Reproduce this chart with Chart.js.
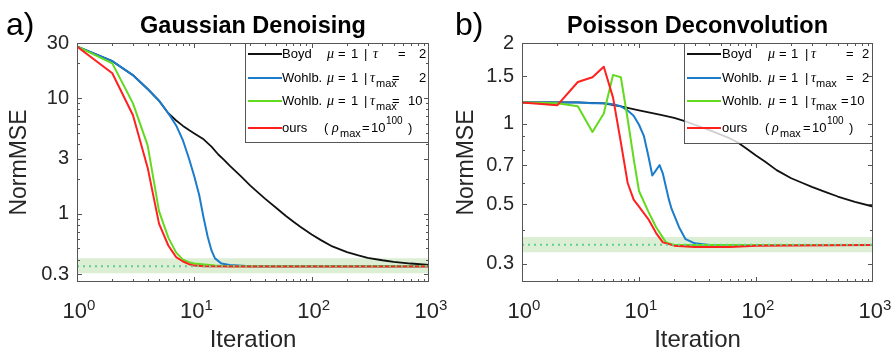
<!DOCTYPE html>
<html>
<head>
<meta charset="utf-8">
<script src="https://cdn.jsdelivr.net/npm/chart.js@4.4.0/dist/chart.umd.min.js"></script>
<style>
html,body{margin:0;padding:0;background:#fff;}
#wrap{position:relative;width:895px;height:355px;overflow:hidden;}
.panel{position:absolute;top:0;height:355px;}
</style>
</head>
<body>
<div id="wrap">
  <div class="panel" style="left:0;width:447px"><canvas id="chartA" width="447" height="355"></canvas></div>
  <div class="panel" style="left:447px;width:448px"><canvas id="chartB" width="448" height="355"></canvas></div>
</div>
<script>
// --- Fonts & colours ---
const FONT = '"Liberation Sans", Arial, Helvetica, sans-serif';
const GREEK = '"Liberation Serif", "Times New Roman", serif';
const TXT = '#262626';
const seriesColors = {boyd:'#111111', w2:'#1c7ccc', w10:'#62da1e', ours:'#ff2020'};

// --- Shared axis ---
const xTicks = [1, 10, 100, 1000];

// --- a) Gaussian denoising ---
const gaussYTicks = [0.3, 1, 3, 10, 30];
const gaussBoydIter = [1,2,3,4,5,6,7,8,9,10,12,14,16,18,20,25,30,35,40,50,60,70,80,100,120,150,200,250,300,400,500,700,1000];
const gaussBoyd     = [28,20.9,15.8,12,9.5,7.4,6.4,5.75,5.3,4.95,4.4,3.8,3.25,2.9,2.6,2.1,1.75,1.52,1.35,1.12,0.96,0.85,0.77,0.66,0.59,0.52,0.465,0.435,0.415,0.395,0.383,0.37,0.36];
const gaussW2Iter   = [1,2,3,4,5,6,7,8,9,10,11,12,13,14,15,17,20,30,1000];
const gaussW2       = [28,20.9,15.8,12,9.5,7.4,5.8,4.3,3.0,2.1,1.45,0.92,0.63,0.48,0.41,0.37,0.36,0.35,0.35];
const gaussW10Iter  = [1,2,3,4,5,6,7,8,9,10,15,20,1000];
const gaussW10      = [28,20,9.0,3.9,1.05,0.62,0.46,0.40,0.38,0.37,0.355,0.35,0.35];
const gaussOursIter = [1,2,3,4,5,6,7,8,9,10,12,20,1000];
const gaussOurs     = [28,16.4,7.1,2.5,0.82,0.53,0.42,0.385,0.365,0.355,0.35,0.348,0.348];
const gaussBand = [0.305, 0.41];
const gaussRef = 0.35;

// --- b) Poisson deconvolution ---
const poisYTicks = [0.3, 0.5, 0.7, 1, 1.5, 2];
const poisBoydIter = [1,2,3,5,7,10,15,20,25,30,40,50,60,70,85,100,120,150,200,250,300,400,500,700,1000];
const poisBoyd     = [1.2,1.2,1.2,1.19,1.16,1.12,1.08,1.05,1.02,0.99,0.945,0.91,0.88,0.85,0.8,0.76,0.72,0.67,0.625,0.6,0.58,0.553,0.534,0.51,0.49];
const poisW2Iter   = [1,2,3,4,5,6,7,8,9,10,11,12,13,14,15,16,17,18,19,22,25,30,40,1000];
const poisW2       = [1.2,1.2,1.2,1.19,1.19,1.18,1.16,1.12,1.07,0.99,0.9,0.76,0.64,0.67,0.7,0.65,0.58,0.52,0.48,0.41,0.37,0.357,0.352,0.352];
const poisW10Iter  = [1,2,3,4,5,6,7,8,9,10,12,14,17,20,1000];
const poisW10      = [1.2,1.19,1.16,0.93,1.09,1.52,1.49,1.04,0.74,0.56,0.47,0.41,0.36,0.352,0.352];
const poisOursIter = [1,2,3,4,5,6,7,8,9,10,12,14,16,20,30,60,100,1000];
const poisOurs     = [1.2,1.17,1.43,1.49,1.63,1.25,0.85,0.6,0.52,0.49,0.44,0.39,0.36,0.35,0.346,0.346,0.35,0.352];
const poisBand = [0.331, 0.377];
const poisRef = 0.353;

// --- Legend text (dx from legend box left) ---
const legendRowY = [11, 35, 58, 85];
const legendA = {w:184, h:100, rows:[
  {key:'boyd', segs:[['Boyd',37,'n'],['μ',82,'g'],['=',93,'n'],['1',106,'n'],['|',119,'n'],['τ',128,'g'],['=',153,'n'],['2',174,'n']]},
  {key:'w2',   segs:[['Wohlb.',37,'n'],['μ',82,'g'],['=',93,'n'],['1',106,'n'],['|',119,'n'],['τ',125,'g'],['max',131,'sub'],['=',147,'n'],['2',174,'n']]},
  {key:'w10',  segs:[['Wohlb.',37,'n'],['μ',82,'g'],['=',93,'n'],['1',106,'n'],['|',119,'n'],['τ',125,'g'],['max',131,'sub'],['=',147,'n'],['10',163,'n']]},
  {key:'ours', segs:[['ours',37,'n'],['(',79,'n'],['ρ',87,'g'],['max',95,'sub'],['=',117,'n'],['10',126,'n'],['100',141,'sup'],[')',163,'n']]}
]};
const legendB = {w:189, h:101, rows:[
  {key:'boyd', segs:[['Boyd',38,'n'],['μ',84,'g'],['=',95,'n'],['1',107,'n'],['|',121,'n'],['τ',127,'g'],['=',162,'n'],['2',178,'n']]},
  {key:'w2',   segs:[['Wohlb.',38,'n'],['μ',84,'g'],['=',95,'n'],['1',107,'n'],['|',121,'n'],['τ',127,'g'],['max',132,'sub'],['=',162,'n'],['2',178,'n']]},
  {key:'w10',  segs:[['Wohlb.',38,'n'],['μ',84,'g'],['=',95,'n'],['1',107,'n'],['|',121,'n'],['τ',127,'g'],['max',132,'sub'],['=',157,'n'],['10',166,'n']]},
  {key:'ours', segs:[['ours',38,'n'],['(',81,'n'],['ρ',88,'g'],['max',96,'sub'],['=',119,'n'],['10',128,'n'],['100',143,'sup'],[')',165,'n']]}
]};

// --- Helpers ---
function pts(iter, vals){ return iter.map((x,i)=>({x, y:vals[i]})); }

function curve(key, iter, vals, w){
  return {label:key, data:pts(iter,vals), borderColor:seriesColors[key], borderWidth:w||2, pointRadius:0, fill:false};
}

function makeDatasets(d){
  return [
    {label:'ref', data:[{x:1,y:d.ref},{x:1000,y:d.ref}], borderColor:'#5fcf96', borderWidth:2, borderDash:[2,4], borderCapStyle:'butt', pointRadius:0, fill:false},
    curve('ours', d.oursIter, d.ours),
    curve('w10', d.w10Iter, d.w10),
    curve('w2', d.w2Iter, d.w2),
    curve('boyd', d.boydIter, d.boyd, 1.8),
    {label:'band', data:[{x:1,y:d.band[1]},{x:1000,y:d.band[1]}], borderColor:'transparent', borderWidth:0, pointRadius:0,
     fill:{value:d.band[0]}, backgroundColor:'rgba(110,185,70,0.24)'}
  ];
}

function drawSeg(ctx, x, y, t, kind){
  ctx.textAlign = 'left'; ctx.textBaseline = 'middle'; ctx.fillStyle = '#000';
  if(kind==='g'){ ctx.font = `italic 14px ${GREEK}`; ctx.fillText(t, x, y); }
  else if(kind==='sub'){ ctx.font = `11px ${FONT}`; ctx.fillText(t, x, y+6); }
  else if(kind==='sup'){ ctx.font = `10px ${FONT}`; ctx.fillText(t, x, y-7); }
  else { ctx.font = `13px ${FONT}`; ctx.fillText(t, x, y); }
}

function drawLegend(chart, spec){
  const {ctx, chartArea:a} = chart;
  const bx = a.right - spec.w, by = a.top;
  ctx.fillStyle = 'rgba(255,255,255,0.8)';
  ctx.fillRect(bx, by, spec.w, spec.h);
  ctx.strokeStyle = '#555'; ctx.lineWidth = 1;
  ctx.strokeRect(bx+0.5, by+0.5, spec.w-1, spec.h-1);
  spec.rows.forEach((row,i)=>{
    const cy = by + legendRowY[i];
    const ds = chart.data.datasets.find(d=>d.label===row.key);
    ctx.strokeStyle = ds.borderColor; ctx.lineWidth = 2;
    ctx.beginPath(); ctx.moveTo(bx+3, cy); ctx.lineTo(bx+37, cy); ctx.stroke();
    row.segs.forEach(([t,dx,k])=>drawSeg(ctx, bx+dx, cy, t, k));
  });
}

// --- Frame, inward ticks, legend, titles ---
const framePlugin = {
  id:'frame',
  afterDatasetsDraw(chart, args, opts){
    const {ctx, chartArea:a, scales:{x,y}} = chart;
    ctx.save();
    drawLegend(chart, opts.legend);
    ctx.strokeStyle = '#555'; ctx.lineWidth = 1;
    ctx.strokeRect(a.left+0.5, a.top+0.5, a.width-1, a.height-1);
    ctx.beginPath();
    // x ticks (major + minor) on bottom and top
    for(let k=0;k<3;k++){
      for(let m=1;m<10;m++){
        const px = Math.round(x.getPixelForValue(m*Math.pow(10,k)))+0.5;
        const len = m===1?5:3;
        ctx.moveTo(px,a.bottom); ctx.lineTo(px,a.bottom-len);
        ctx.moveTo(px,a.top); ctx.lineTo(px,a.top+len);
      }
    }
    // y ticks: labelled ones long, log minors short
    const majors = y.ticks.map(t=>t.value);
    const lo = Math.floor(Math.log10(y.min)), hi = Math.ceil(Math.log10(y.max));
    for(let k=lo;k<=hi;k++){
      for(let m=1;m<10;m++){
        const v = m*Math.pow(10,k);
        if(v<y.min*0.999 || v>y.max*1.001) continue;
        const py = Math.round(y.getPixelForValue(v))+0.5;
        ctx.moveTo(a.left,py); ctx.lineTo(a.left+3,py);
        ctx.moveTo(a.right,py); ctx.lineTo(a.right-3,py);
      }
    }
    majors.forEach(v=>{
      const py = Math.round(y.getPixelForValue(v))+0.5;
      ctx.moveTo(a.left,py); ctx.lineTo(a.left+5,py);
      ctx.moveTo(a.right,py); ctx.lineTo(a.right-5,py);
    });
    ctx.stroke();
    ctx.restore();
  },
  afterDraw(chart, args, opts){
    const {ctx, chartArea:a, scales:{x}} = chart;
    ctx.save();
    ctx.fillStyle = '#000';
    ctx.textBaseline = 'alphabetic';
    ctx.textAlign = 'center';
    ctx.font = `bold 23.5px ${FONT}`;
    ctx.fillText(opts.title, (a.left+a.right)/2, 33);
    ctx.textAlign = 'left';
    ctx.font = `32px ${FONT}`;
    ctx.fillText(opts.letter, opts.letterX, 35);
    // x tick labels 10^k
    ctx.fillStyle = TXT;
    xTicks.forEach(v=>{
      const px = x.getPixelForValue(v);
      const exp = String(Math.round(Math.log10(v)));
      ctx.font = `22px ${FONT}`; const w1 = ctx.measureText('10').width;
      ctx.font = `15px ${FONT}`; const w2 = ctx.measureText(exp).width;
      const left = px + 2 - (w1+w2)/2;
      ctx.font = `22px ${FONT}`; ctx.fillText('10', left, a.bottom+36);
      ctx.font = `15px ${FONT}`; ctx.fillText(exp, left+w1, a.bottom+28);
    });
    ctx.restore();
  }
};

function makeOptions(yMin, yMax, yTicks, leftW, rightPad, frame){
  return {
    responsive:false, animation:false,
    layout:{padding:{top:43, right:rightPad, left:0, bottom:0}},
    plugins:{legend:{display:false}, tooltip:{enabled:false}, frame},
    elements:{line:{tension:0, borderJoinStyle:'round', borderCapStyle:'round'}},
    scales:{
      x:{type:'logarithmic', min:1, max:1000,
         grid:{display:false, drawTicks:false}, border:{display:false},
         ticks:{display:false},
         afterBuildTicks:s=>{ s.ticks = xTicks.map(v=>({value:v})); },
         afterFit:s=>{ s.height = 73; },
         title:{display:true, text:'Iteration', color:TXT, font:{family:FONT, size:24}, padding:{top:0, bottom:0}}},
      y:{type:'logarithmic', min:yMin, max:yMax,
         grid:{display:false, drawTicks:false}, border:{display:false},
         ticks:{color:TXT, font:{family:FONT, size:20}, padding:8, autoSkip:false, callback:v=>String(v)},
         afterBuildTicks:s=>{ s.ticks = yTicks.map(v=>({value:v})); },
         afterFit:s=>{ s.width = leftW; },
         title:{display:true, text:'NormMSE', color:TXT, font:{family:FONT, size:23}, padding:{top:6, bottom:0}}}
    }
  };
}

// --- Build charts ---
new Chart(document.getElementById('chartA'), {
  type:'line',
  data:{datasets:makeDatasets({ref:gaussRef, band:gaussBand,
    boydIter:gaussBoydIter, boyd:gaussBoyd, w2Iter:gaussW2Iter, w2:gaussW2,
    w10Iter:gaussW10Iter, w10:gaussW10, oursIter:gaussOursIter, ours:gaussOurs})},
  options:makeOptions(0.256, 30, gaussYTicks, 77, 18, {title:'Gaussian Denoising', letter:'a)', letterX:6, legend:legendA}),
  plugins:[framePlugin]
});

new Chart(document.getElementById('chartB'), {
  type:'line',
  data:{datasets:makeDatasets({ref:poisRef, band:poisBand,
    boydIter:poisBoydIter, boyd:poisBoyd, w2Iter:poisW2Iter, w2:poisW2,
    w10Iter:poisW10Iter, w10:poisW10, oursIter:poisOursIter, ours:poisOurs})},
  options:makeOptions(0.256, 2, poisYTicks, 75, 22, {title:'Poisson Deconvolution', letter:'b)', letterX:8, legend:legendB}),
  plugins:[framePlugin]
});
</script>
</body>
</html>
